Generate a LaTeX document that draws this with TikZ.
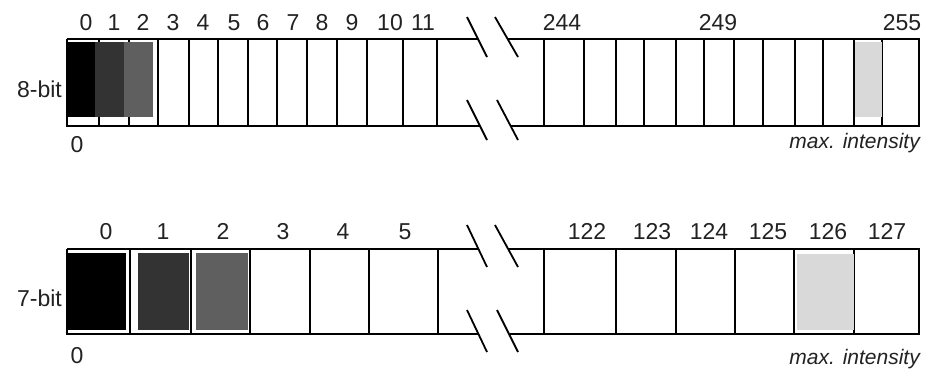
\documentclass[tikz,border=0pt]{standalone}
\usepackage{fontspec}
\setmainfont{Liberation Sans}
\definecolor{dk}{HTML}{333333}
\definecolor{md}{HTML}{5F5F5F}
\definecolor{lt}{HTML}{D9D9D9}
\definecolor{txt}{HTML}{222222}
\begin{document}
\begin{tikzpicture}[x=1pt,y=-1pt,
  outline/.style={line width=2.4pt,black},
  grid/.style={line width=2pt,black},
  brk/.style={line width=1.8pt,black},
  lbl/.style={anchor=base,inner sep=0pt,text=txt,font=\fontsize{23}{27}\selectfont},
  side/.style={anchor=base east,inner sep=0pt,text=txt,font=\fontsize{23}{27}\selectfont},
  maxl/.style={anchor=base east,inner sep=0pt,text=txt,font=\fontsize{21}{25}\selectfont\itshape}]
\useasboundingbox (0,0) rectangle (934,368);
\fill[white] (0,0) rectangle (934,368);

% ---------------- 8-bit row ----------------
\foreach \x in {67,99,129,158,189,218,248,277,307,337,367,403,437,
                544,584,616,644,676,704,734,763,795,823,854,882,919}
  \draw[grid] (\x,39) -- (\x,126);
\draw[outline] (67,39) -- (478,39);
\draw[outline] (508,39) -- (919,39) -- (919,126) -- (510,126);
\draw[outline] (480,126) -- (67,126) -- (67,39);
\fill[black] (67,42) rectangle (95,117);
\fill[dk] (95,42) rectangle (124,117);
\fill[md] (124,42) rectangle (153,117);
\fill[lt] (855,42) rectangle (882,117);
\draw[brk] (467,17) -- (487,57);
\draw[brk] (495,17) -- (518,57);
\draw[brk] (467,100) -- (487,140);
\draw[brk] (497,100) -- (518,140);

\foreach \x/\t [count=\i] in {86/0,114/1,143/2,173/3,203/4,234/5,263/6,293/7,322/8,352/9,390/10,423/11,562/244,718/249,902/255}
  \node[lbl] (ta\i) at (\x,30) {\t};
\node[side] (eightbit) at (62,97) {8-bit};
\node[lbl] (zeroa) at (77,152) {0};
\node[maxl] (maxa) at (920,148) {max. intensity};

% ---------------- 7-bit row ----------------
\foreach \x in {67,130,191,250,310,369,438,544,616,676,735,794,854,919}
  \draw[grid] (\x,249) -- (\x,334);
\draw[outline] (67,249) -- (478,249);
\draw[outline] (508,249) -- (919,249) -- (919,334) -- (510,334);
\draw[outline] (478,334) -- (67,334) -- (67,249);
\fill[black] (67,253) rectangle (126,330);
\fill[dk] (138,253) rectangle (189,330);
\fill[md] (196,253) rectangle (248,330);
\fill[lt] (797,254) rectangle (854,330);
\draw[brk] (467,225) -- (487,267);
\draw[brk] (495,225) -- (518,267);
\draw[brk] (467,310) -- (487,352);
\draw[brk] (497,310) -- (518,352);

\foreach \x/\t [count=\i] in {106/0,163/1,223/2,283/3,343/4,405/5,587/122,652/123,709/124,768/125,828/126,887/127}
  \node[lbl] (tb\i) at (\x,239) {\t};
\node[side] (sevenbit) at (62,306) {7-bit};
\node[lbl] (zerob) at (77,363) {0};
\node[maxl] (maxb) at (920,364) {max. intensity};
\end{tikzpicture}
\end{document}
